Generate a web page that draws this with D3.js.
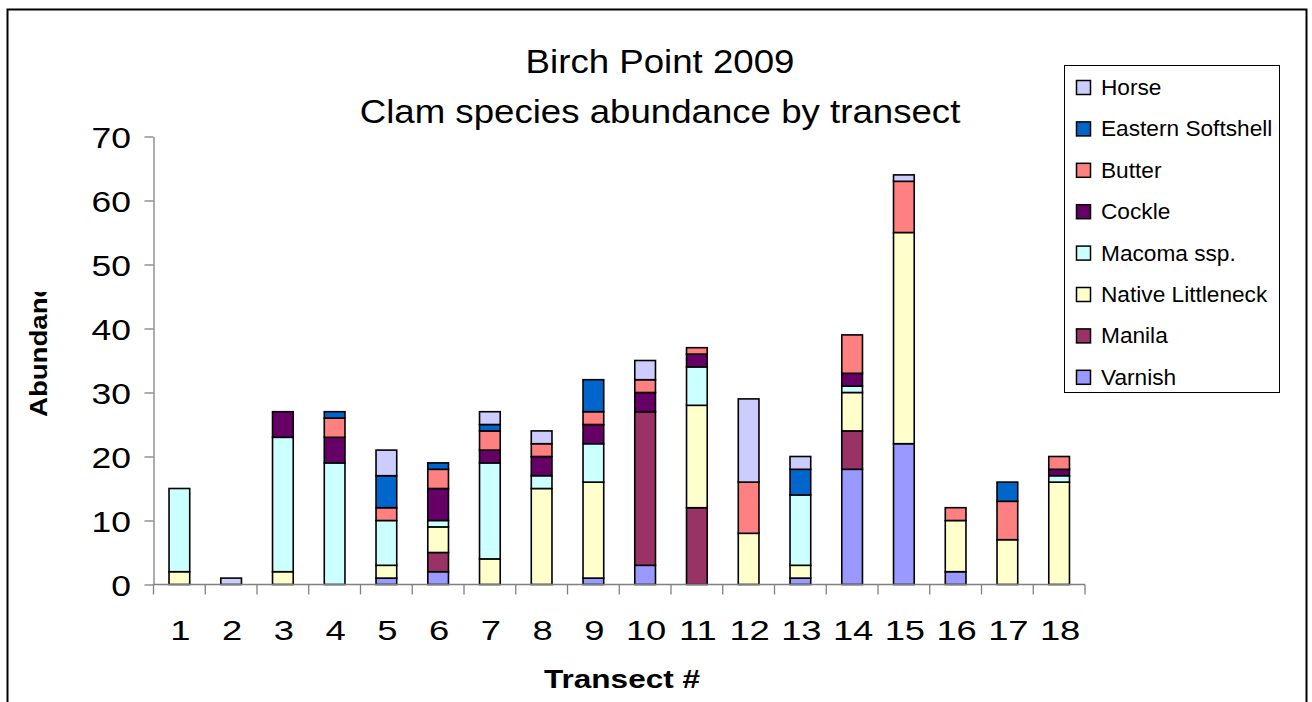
<!DOCTYPE html>
<html>
<head>
<meta charset="utf-8">
<script src="https://cdn.jsdelivr.net/npm/d3@7"></script>
<style>
  body { margin: 0; background: #fff; }
  svg text { font-family: "Liberation Sans", Arial, sans-serif; fill: #000; }
</style>
</head>
<body>
<div id="chart"></div>
<script>
// transect numbers along the x axis
var transects = ["1","2","3","4","5","6","7","8","9","10","11","12","13","14","15","16","17","18"];

// species counts per transect (stack order: bottom -> top)
var varnish    = [0,0,0,0,1,2,0,0,1,3,0,0,1,18,22,2,0,0];
var manila     = [0,0,0,0,0,3,0,0,0,24,12,0,0,6,0,0,0,0];
var littleneck = [2,0,2,0,2,4,4,15,15,0,16,8,2,6,33,8,7,16];
var macoma     = [13,0,21,19,7,1,15,2,6,0,6,0,11,1,0,0,0,1];
var cockle     = [0,0,4,4,0,5,2,3,3,3,2,0,0,2,0,0,0,1];
var butter     = [0,0,0,3,2,3,3,2,2,2,1,8,0,6,8,2,6,2];
var softshell  = [0,0,0,1,5,1,1,0,5,0,0,0,4,0,0,0,3,0];
var horse      = [0,1,0,0,4,0,2,2,0,3,0,13,2,0,1,0,0,0];

var seriesNames  = ["Varnish","Manila","Native Littleneck","Macoma ssp.","Cockle","Butter","Eastern Softshell","Horse"];
var seriesValues = [varnish, manila, littleneck, macoma, cockle, butter, softshell, horse];
var seriesColors = ["#9999ff","#993366","#ffffcc","#ccffff","#660066","#ff8080","#0066cc","#ccccff"];

var yTicks = [0,10,20,30,40,50,60,70];

var W = 1312, H = 702;
var plot = { left: 153.5, right: 1085, top: 136.5, bottom: 584.5 };

var svg = d3.select("#chart").append("svg")
  .attr("width", W)
  .attr("height", H);

// outer chart border
svg.append("rect")
  .attr("x", 7.5).attr("y", 9.5)
  .attr("width", 1299).attr("height", 720)
  .attr("fill", "none")
  .attr("stroke", "#000")
  .attr("stroke-width", 2);

// build rows for the stack
var rows = transects.map(function(t, i) {
  var r = { transect: t };
  seriesNames.forEach(function(s, j) { r[s] = seriesValues[j][i]; });
  return r;
});
var stacked = d3.stack().keys(seriesNames)(rows);

var x = d3.scaleBand()
  .domain(transects)
  .range([plot.left, plot.right])
  .padding(0);

var y = d3.scaleLinear()
  .domain([0, 70])
  .range([plot.bottom, plot.top]);

var color = d3.scaleOrdinal().domain(seriesNames).range(seriesColors);

// bars
var barW = x.step() * 0.4;
svg.append("g").selectAll("g")
  .data(stacked)
  .enter().append("g")
  .attr("fill", function(d) { return color(d.key); })
  .selectAll("rect")
  .data(function(d) { return d.filter(function(p) { return p[1] > p[0]; }); })
  .enter().append("rect")
  .attr("x", function(d) { return x(d.data.transect) + x.step() * 0.3; })
  .attr("width", barW)
  .attr("y", function(d) { return y(d[1]); })
  .attr("height", function(d) { return y(d[0]) - y(d[1]); })
  .attr("stroke", "#000")
  .attr("stroke-width", 1.6);

// y axis
var yAxis = svg.append("g")
  .attr("transform", "translate(" + plot.left + ",0)")
  .call(d3.axisLeft(y).tickValues(yTicks).tickSize(9).tickSizeOuter(0));
yAxis.select(".domain").attr("stroke", "#808080").attr("stroke-width", 1.3);
yAxis.selectAll(".tick line").attr("stroke", "#808080").attr("stroke-width", 1.3);
yAxis.selectAll(".tick text")
  .attr("x", 0)
  .attr("dy", "0.36em")
  .attr("transform", "translate(-22.5,0) scale(1.2,1)")
  .attr("font-size", 29.5)
  .attr("font-family", "Liberation Sans, Arial, sans-serif")
  .attr("fill", "#000");

// x axis: ticks on category boundaries
var xAxis = svg.append("g")
  .attr("transform", "translate(0," + plot.bottom + ")");
xAxis.append("line")
  .attr("x1", plot.left).attr("x2", plot.right)
  .attr("stroke", "#808080").attr("stroke-width", 1.3);
xAxis.selectAll(".xt")
  .data(transects.concat(["end"]))
  .enter().append("line")
  .attr("x1", function(d, i) { return plot.left + i * x.step(); })
  .attr("x2", function(d, i) { return plot.left + i * x.step(); })
  .attr("y1", 0).attr("y2", 10)
  .attr("stroke", "#808080").attr("stroke-width", 1.3);
xAxis.selectAll(".xl")
  .data(transects)
  .enter().append("text")
  .attr("transform", function(d) {
    return "translate(" + (x(d) + x.bandwidth() / 2 + 1) + ",55) scale(1.3,1)";
  })
  .attr("text-anchor", "middle")
  .attr("font-size", 28)
  .text(function(d) { return d; });

// axis titles
svg.append("text")
  .attr("transform", "translate(622,688) scale(1.19,1)")
  .attr("text-anchor", "middle")
  .attr("font-size", 26.5)
  .attr("font-weight", "bold")
  .text("Transect #");

svg.append("clipPath").attr("id", "yclip")
  .append("rect").attr("x", 0).attr("y", 292).attr("width", 100).attr("height", 200);
svg.append("g")
  .attr("clip-path", "url(#yclip)")
  .append("text")
  .attr("transform", "translate(47,417) rotate(-90) scale(1.2,1)")
  .attr("font-size", 23)
  .attr("font-weight", "bold")
  .text("Abundance");

// chart title
svg.append("text")
  .attr("transform", "translate(660,73) scale(1.11,1)")
  .attr("text-anchor", "middle")
  .attr("font-size", 33)
  .text("Birch Point 2009");
svg.append("text")
  .attr("transform", "translate(660,123) scale(1.11,1)")
  .attr("text-anchor", "middle")
  .attr("font-size", 33)
  .text("Clam species abundance by transect");

// legend (top series first)
var legend = svg.append("g").attr("transform", "translate(1064.5,65.5)");
legend.append("rect")
  .attr("width", 215).attr("height", 327)
  .attr("fill", "#fff")
  .attr("stroke", "#000")
  .attr("stroke-width", 1);

var legendItems = legend.selectAll(".item")
  .data(seriesNames.slice().reverse())
  .enter().append("g")
  .attr("transform", function(d, i) { return "translate(0," + (22 + i * 41.4) + ")"; });
legendItems.append("rect")
  .attr("x", 12).attr("y", -7)
  .attr("width", 14).attr("height", 14)
  .attr("fill", function(d) { return color(d); })
  .attr("stroke", "#000")
  .attr("stroke-width", 1.5);
legendItems.append("text")
  .attr("transform", "translate(36.5,7.5) scale(1.055,1)")
  .attr("font-size", 21.5)
  .text(function(d) { return d; });
</script>
</body>
</html>
